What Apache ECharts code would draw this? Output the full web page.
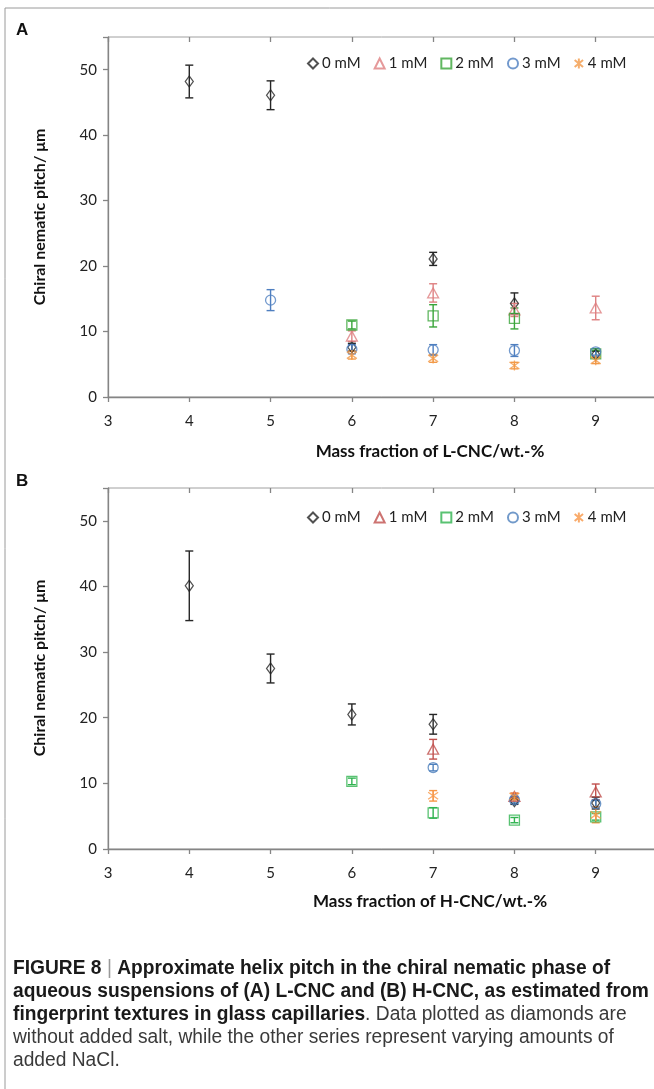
<!DOCTYPE html>
<html>
<head>
<meta charset="utf-8">
<script src="https://cdn.jsdelivr.net/npm/echarts@6/dist/echarts.min.js"></script>
<style>
  html, body { margin: 0; padding: 0; background: #fff; }
  #chart { width: 654px; height: 1089px; }
</style>
</head>
<body>
<div id="chart"></div>
<script>
const legendNames = ['0 mM', '1 mM', '2 mM', '3 mM', '4 mM'];
const xTicks = [3, 4, 5, 6, 7, 8, 9];
const yTicks = [0, 10, 20, 30, 40, 50];

// panel A, L-CNC  (x = mass fraction, y = pitch, e = error bar half width)
const aX0 = [4, 5, 6, 7, 8, 9];
const aY0 = [48.2, 46.1, 7.6, 21.1, 14.3, 6.5];
const aE0 = [2.5, 2.2, 0.6, 1.0, 1.6, 0.5];
const aX1 = [6, 7, 8, 9];
const aY1 = [9.3, 15.9, 13.3, 13.6];
const aE1 = [0.8, 1.4, 1.0, 1.8];
const aX2 = [6, 7, 8, 9];
const aY2 = [11.0, 12.4, 12.0, 6.6];
const aE2 = [0.6, 1.7, 1.6, 0.5];
const aX3 = [5, 6, 7, 8, 9];
const aY3 = [14.8, 7.3, 7.2, 7.1, 6.9];
const aE3 = [1.6, 0.7, 0.8, 0.9, 0.5];
const aX4 = [6, 7, 8, 9];
const aY4 = [6.4, 5.9, 4.8, 5.6];
const aE4 = [0.6, 0.6, 0.5, 0.5];

// panel B, H-CNC
const bX0 = [4, 5, 6, 7, 8, 9];
const bY0 = [40.1, 27.5, 20.5, 19.0, 7.3, 7.0];
const bE0 = [5.3, 2.2, 1.6, 1.5, 0.5, 0.9];
const bX1 = [7, 8, 9];
const bY1 = [15.2, 8.0, 8.7];
const bE1 = [1.5, 0.5, 1.2];
const bX2 = [6, 7, 8, 9];
const bY2 = [10.3, 5.5, 4.4, 4.9];
const bE2 = [0.5, 0.8, 0.4, 0.5];
const bX3 = [7, 8, 9];
const bY3 = [12.4, 7.5, 6.9];
const bE3 = [0.5, 0.5, 0.5];
const bX4 = [7, 8, 9];
const bY4 = [8.1, 8.0, 5.2];
const bE4 = [0.8, 0.5, 1.2];

const starPath = 'path://M5,0L5,10M0.8,1.5L9.2,8.5M0.8,8.5L9.2,1.5';
const symbols = ['diamond', 'triangle', 'rect', 'circle', starPath];
const sizes = [[8, 11], [11, 10], [10, 10], [10, 10], [10, 10]];
const colorsA = ['#262626', '#de8081', '#3aa53a', '#4f7fc0', '#f29a48'];
const colorsB = ['#262626', '#c0504d', '#2fb34f', '#4f81bd', '#f79646'];

const panelA = [[aX0, aY0, aE0], [aX1, aY1, aE1], [aX2, aY2, aE2], [aX3, aY3, aE3], [aX4, aY4, aE4]];
const panelB = [[bX0, bY0, bE0], [bX1, bY1, bE1], [bX2, bY2, bE2], [bX3, bY3, bE3], [bX4, bY4, bE4]];

function errorSeries(xs, ys, es, color, g) {
  return {
    type: 'custom', xAxisIndex: g, yAxisIndex: g, silent: true, z: 2,
    data: xs.map((x, k) => [x, ys[k] - es[k], ys[k] + es[k]]),
    encode: { x: 0, y: [1, 2] },
    renderItem: function (params, api) {
      const lo = api.coord([api.value(0), api.value(1)]);
      const hi = api.coord([api.value(0), api.value(2)]);
      const w = 4;
      const st = { stroke: color, lineWidth: 1.4 };
      return {
        type: 'group', children: [
          { type: 'line', shape: { x1: lo[0], y1: lo[1], x2: hi[0], y2: hi[1] }, style: st },
          { type: 'line', shape: { x1: lo[0] - w, y1: lo[1], x2: lo[0] + w, y2: lo[1] }, style: st },
          { type: 'line', shape: { x1: hi[0] - w, y1: hi[1], x2: hi[0] + w, y2: hi[1] }, style: st }
        ]
      };
    }
  };
}

let series = [];
[panelA, panelB].forEach((panel, g) => {
  const prefix = g === 0 ? 'A ' : 'B ';
  const colors = g === 0 ? colorsA : colorsB;
  panel.forEach((s, i) => {
    series.push({
      name: prefix + legendNames[i],
      type: 'scatter', xAxisIndex: g, yAxisIndex: g, z: 3,
      symbol: symbols[i], symbolSize: sizes[i],
      itemStyle: { color: 'rgba(0,0,0,0)', borderColor: colors[i], borderWidth: 1.3 },
      data: s[0].map((x, k) => [x, s[1][k]])
    });
  });
  panel.forEach((s, i) => {
    series.push(errorSeries(s[0], s[1], s[2], colors[i], g));
  });
});

const axisGray = '#858585';
function xAxisFor(g, ticksOnly) {
  return {
    type: 'value', gridIndex: g, min: 3, max: 10, interval: 1,
    axisLine: { show: !ticksOnly, onZero: false, lineStyle: { color: axisGray, width: 1.3 } },
    axisTick: { show: true, inside: ticksOnly, length: 5, lineStyle: { color: axisGray, width: 1.3 } },
    axisLabel: {
      show: !ticksOnly, margin: 17, color: '#222', fontSize: 15, fontFamily: 'Lato',
      formatter: v => xTicks.includes(v) ? String(v) : ''
    },
    splitLine: { show: false }
  };
}
function yAxisFor(g, ticksOnly) {
  return {
    type: 'value', gridIndex: g, min: 0, max: 55, interval: 10,
    axisLine: { show: !ticksOnly, onZero: false, lineStyle: { color: axisGray, width: 1.3 } },
    axisTick: { show: true, inside: ticksOnly, length: 5, lineStyle: { color: axisGray, width: 1.3 } },
    axisLabel: {
      show: !ticksOnly, margin: 11, color: '#222', fontSize: 15, fontFamily: 'Lato',
      formatter: v => yTicks.includes(v) ? String(v) : ''
    },
    splitLine: { show: false }
  };
}

function legendFor(g, top) {
  const prefix = g === 0 ? 'A ' : 'B ';
  return {
    data: legendNames.map(n => prefix + n),
    formatter: n => n.slice(2),
    left: 302, top: top, orient: 'horizontal',
    itemWidth: 10, itemHeight: 10, itemGap: 13,
    textStyle: { fontSize: 15, fontFamily: 'Lato', color: '#222', padding: [0, 0, 0, -1] },
    selectedMode: false
  };
}

const titleFont = 'bold 17px Lato';
const capFont = '20px "Liberation Sans"';
const capRich = {
  b: { fontWeight: 'bold', fontSize: 20, fontFamily: 'Liberation Sans', fill: '#1a1a1a' },
  r: { fontSize: 20, fontFamily: 'Liberation Sans', fill: '#3a3a3a' },
  p: { fontSize: 20, fontFamily: 'Liberation Sans', fill: '#999' }
};
const capLines = [
  '{b|FIGURE 8}{p| | }{b|Approximate helix pitch in the chiral nematic phase of}',
  '{b|aqueous suspensions of (A) L-CNC and (B) H-CNC, as estimated from}',
  '{b|fingerprint textures in glass capillaries}{r|. Data plotted as diamonds are}',
  '{r|without added salt, while the other series represent varying amounts of}',
  '{r|added NaCl.}'
];

let graphics = [
  { type: 'line', shape: { x1: 5, y1: 8, x2: 5, y2: 1089 }, style: { stroke: '#9a9a9a', lineWidth: 1 } },
  { type: 'line', shape: { x1: 5, y1: 8, x2: 654, y2: 8 }, style: { stroke: '#9a9a9a', lineWidth: 1 } },
  { type: 'text', x: 16, y: 30, style: { text: 'A', font: 'bold 17px "Liberation Sans"', fill: '#111', textVerticalAlign: 'middle' } },
  { type: 'text', x: 16, y: 481, style: { text: 'B', font: 'bold 17px "Liberation Sans"', fill: '#111', textVerticalAlign: 'middle' } },
  { type: 'text', x: 430, y: 452, style: { text: 'Mass fraction of L-CNC/wt.-%', font: titleFont, fill: '#111', textAlign: 'center', textVerticalAlign: 'middle' } },
  { type: 'text', x: 430, y: 902, style: { text: 'Mass fraction of H-CNC/wt.-%', font: titleFont, fill: '#111', textAlign: 'center', textVerticalAlign: 'middle' } },
  { type: 'text', x: 40, y: 217, rotation: Math.PI / 2, style: { text: 'Chiral nematic pitch/ μm', font: 'bold 16px Lato', fill: '#111', textAlign: 'center', textVerticalAlign: 'middle' } },
  { type: 'text', x: 40, y: 668, rotation: Math.PI / 2, style: { text: 'Chiral nematic pitch/ μm', font: 'bold 16px Lato', fill: '#111', textAlign: 'center', textVerticalAlign: 'middle' } }
];
capLines.forEach((t, i) => {
  graphics.push({
    type: 'text', x: 13, y: 968 + i * 23, scaleX: 0.96,
    style: { text: t, rich: capRich, font: capFont, textVerticalAlign: 'middle' }
  });
});

const option = {
  animation: false,
  backgroundColor: '#fff',
  grid: [
    { left: 108, top: 37, width: 569, height: 360, outerBoundsMode: 'none', show: true, borderColor: '#a0a0a0', borderWidth: 1 },
    { left: 108, top: 488, width: 569, height: 361, outerBoundsMode: 'none', show: true, borderColor: '#a0a0a0', borderWidth: 1 }
  ],
  xAxis: [xAxisFor(0, false), xAxisFor(1, false), xAxisFor(0, true), xAxisFor(1, true)],
  yAxis: [yAxisFor(0, false), yAxisFor(1, false), yAxisFor(0, true), yAxisFor(1, true)],
  legend: [legendFor(0, 51), legendFor(1, 505)],
  graphic: graphics,
  series: series
};

const myChart = echarts.init(document.getElementById('chart'));
myChart.setOption(option);
</script>
</body>
</html>
